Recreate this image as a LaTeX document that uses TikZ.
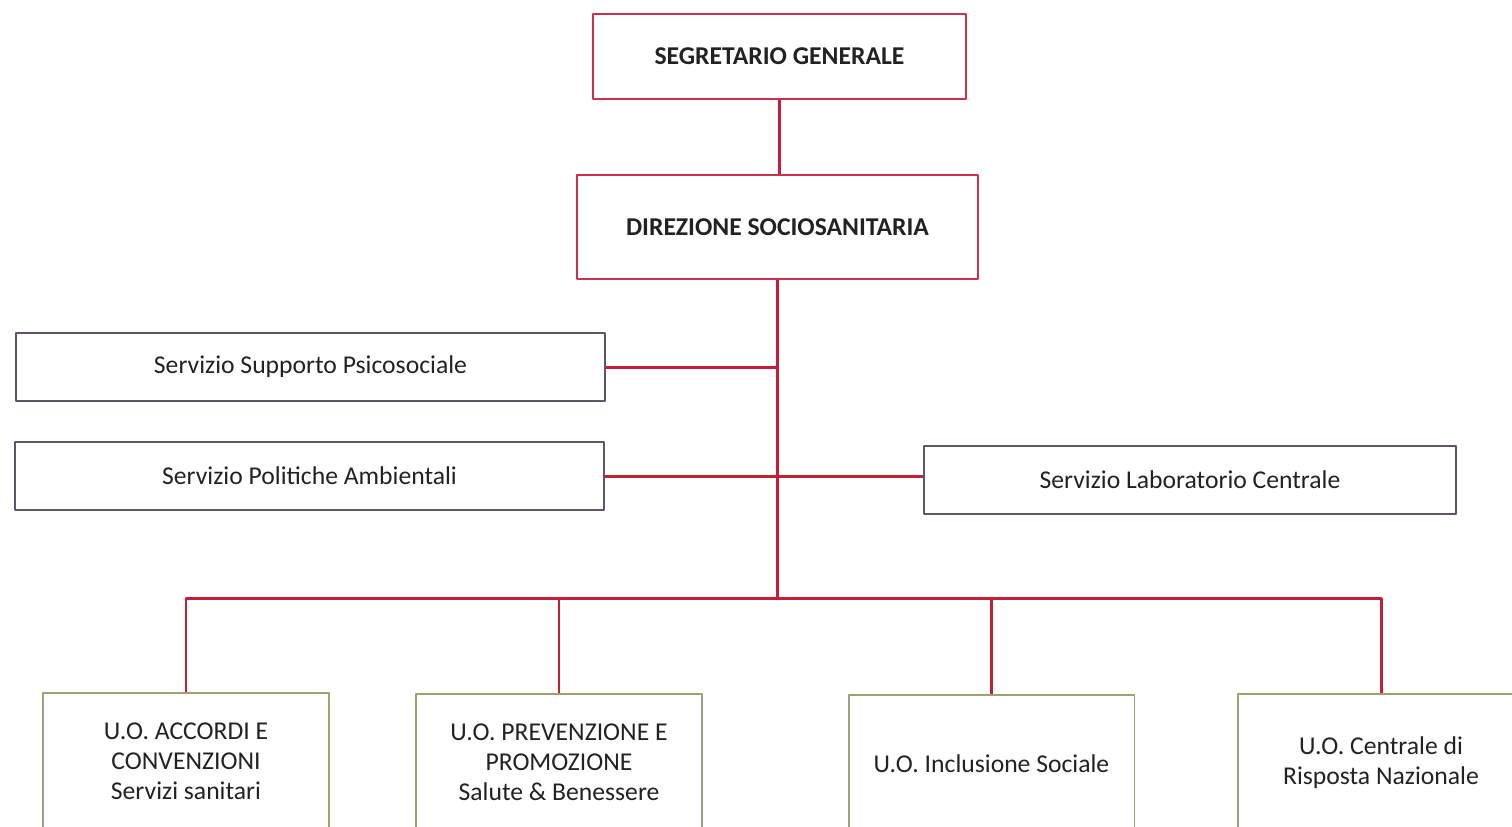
\documentclass[tikz,border=0pt]{standalone}
\usepackage{fontspec}
\setmainfont{Carlito}
\definecolor{linered}{HTML}{C41E3A}
\definecolor{boxred}{HTML}{C8324E}
\definecolor{boxgray}{HTML}{5E5666}
\definecolor{boxolive}{HTML}{9EA272}
\definecolor{txt}{HTML}{222222}
\begin{document}
\begin{tikzpicture}[x=0.02cm,y=-0.02cm,line join=round]
		\tikzset{box/.style={draw,line width=1.1pt,inner sep=0pt,align=center,text=txt,font=\fontsize{14.6}{17}\selectfont},
			top/.style={box,draw=boxred,font=\fontsize{14.6}{17}\selectfont\bfseries},
			serv/.style={box,draw=boxgray,minimum width=11.78cm,minimum height=1.36cm},
			unit/.style={box,draw=boxolive,minimum width=5.72cm,minimum height=2.74cm},
			link/.style={draw=linered,line width=1.7pt}}
		\useasboundingbox (0,0) rectangle (1512,826);
		\clip (0,0) rectangle (1512,826);
		% vertici
		\node[top,minimum width=7.46cm,minimum height=1.70cm] (sg) at (779.5,56.5) {SEGRETARIO GENERALE};
		\node[top,minimum width=8.02cm,minimum height=2.08cm] (dir) at (777.5,227) {DIREZIONE SOCIOSANITARIA};
		% servizi
		\node[serv] (psi) at (310.5,367) {Servizio Supporto Psicosociale};
		\node[serv] (amb) at (309.5,476) {Servizio Politiche Ambientali};
		\node[serv,minimum width=10.64cm] (lab) at (1190,480) {Servizio Laboratorio Centrale};
		% unita operative
		\node[unit] (acc) at (186,761.5) {U.O. ACCORDI E\\CONVENZIONI\\Servizi sanitari};
		\node[unit] (pre) at (559,762.5) {U.O. PREVENZIONE E\\PROMOZIONE\\Salute \& Benessere};
		\node[unit] (inc) at (991.5,763.5) {U.O. Inclusione Sociale};
		\node[unit] (ris) at (1381,762.5) {U.O. Centrale di\\Risposta Nazionale};
		\coordinate (bus) at (777.5,598);
		% collegamenti
		\draw[link] (dir.north -| sg.south) -- (sg.south);
		\draw[link] (dir.south) -- (bus);
		\draw[link] (psi.east) -- (psi.east -| dir.south);
		\draw[link] (amb.east) -- (amb.east -| lab.west);
		\draw[link] (acc.north) -- (acc.north |- bus) -- (ris.north |- bus) -- (ris.north);
		\draw[link] (pre.north) -- (pre.north |- bus);
		\draw[link] (inc.north) -- (inc.north |- bus);
\end{tikzpicture}
\end{document}
